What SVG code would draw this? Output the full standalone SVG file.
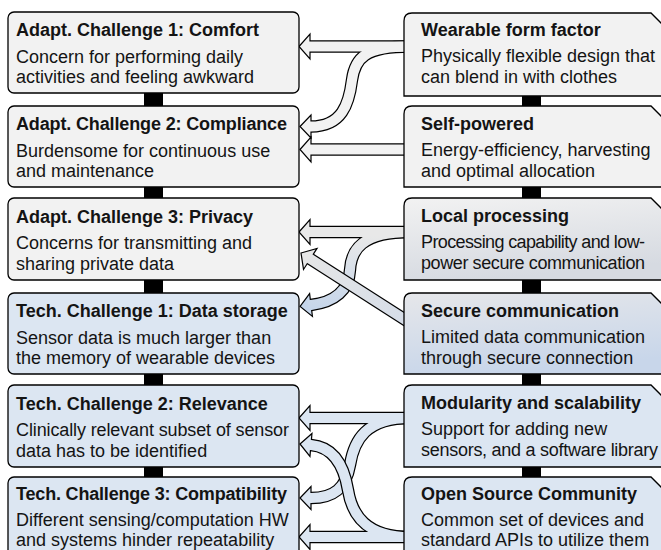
<svg xmlns="http://www.w3.org/2000/svg" width="661" height="550" viewBox="0 0 661 550">
<style>
.box{stroke:#000;stroke-width:1.3}
.g{fill:#f2f2f2}
.b{fill:#dce6f2}
.t{font-family:"Liberation Sans",Arial,sans-serif;font-size:18px;fill:#141414}
.tb{font-weight:bold}
.sk{fill:none;stroke:#000;stroke-width:12.4}
.sf{fill:none;stroke-width:10}
.hd{stroke:#000;stroke-width:1.2;stroke-linejoin:miter}
.bar{fill:#000}
</style>
<defs>
<linearGradient id="gLocal" x1="0" y1="0" x2="0.3" y2="1">
<stop offset="0" stop-color="#f2f2f2"/><stop offset="1" stop-color="#d6dae1"/>
</linearGradient>
<linearGradient id="gSecure" x1="0" y1="0" x2="0.3" y2="1">
<stop offset="0" stop-color="#e6e7ea"/><stop offset="1" stop-color="#c8d6ea"/>
</linearGradient>
<linearGradient id="gE" gradientUnits="userSpaceOnUse" x1="0" y1="236" x2="0" y2="312">
<stop offset="0" stop-color="#e8e8e8"/><stop offset="1" stop-color="#c5d5ea"/>
</linearGradient>
<linearGradient id="gF" gradientUnits="userSpaceOnUse" x1="300" y1="253" x2="404" y2="319">
<stop offset="0" stop-color="#e6e6e6"/><stop offset="1" stop-color="#d6dde8"/>
</linearGradient>
</defs>

<g id="connectors">
<rect class="bar" x="144" y="90" width="19" height="20"/>
<rect class="bar" x="144" y="184" width="19" height="18"/>
<rect class="bar" x="144" y="277" width="19" height="20"/>
<rect class="bar" x="144" y="371" width="19" height="18"/>
<rect class="bar" x="144" y="464" width="19" height="17"/>
<rect class="bar" x="522" y="93" width="19" height="17"/>
<rect class="bar" x="522" y="184" width="19" height="18"/>
<rect class="bar" x="522" y="277" width="19" height="20"/>
<rect class="bar" x="522" y="371" width="19" height="18"/>
<rect class="bar" x="522" y="464" width="19" height="17"/>

<g id="arrows-1">
<path class="sk" d="M410,46.5 H308"/>
<path class="sk" d="M410,46.5 C365,46.5 355,58 352,80 C349,104 342,126.5 311,126.5 H308"/>
<path class="sk" d="M410,149.5 H308"/>
<polygon class="hd g" transform="translate(299,46.5)" points="0,0 11,-12.5 11,12.5"/>
<polygon class="hd g" transform="translate(300,126.5)" points="0,0 11,-11.5 11,11.5"/>
<polygon class="hd g" transform="translate(300,149.5)" points="0,0 11,-12.5 11,12.5"/>
<path class="sf" stroke="#f2f2f2" d="M410,46.5 H307"/>
<path class="sf" stroke="#f2f2f2" d="M410,46.5 C365,46.5 355,58 352,80 C349,104 342,126.5 311,126.5 H308"/>
<path class="sf" stroke="#f2f2f2" d="M410,149.5 H307"/>
</g>

<g id="arrows-2">
<path class="sk" d="M410,232 H308"/>
<path class="sk" d="M410,232 C362,232 351,250 350,270 C349,290 335,302 311,305 L308,305.4"/>
<polygon class="hd" fill="#e8e8e8" transform="translate(299,232)" points="0,0 11,-12.5 11,12.5"/>
<polygon class="hd" fill="#c5d5ea" transform="translate(300.1,306.4) rotate(-7.1)" points="0,0 11,-11.5 11,11.5"/>
<path class="sf" stroke="#e8e8e8" d="M410,232 H307"/>
<path class="sf" stroke="url(#gE)" d="M410,232 C362,232 351,250 350,270 C349,290 335,302 311,305 L308,305.4"/>
</g>

<g id="arrow-secure">
<path class="sk" d="M420,329.3 L308.5,257.8"/>
<polygon class="hd" fill="#e6e6e6" transform="translate(301,253) rotate(32.65)" points="0,0 11,-12.5 11,12.5"/>
<path class="sf" stroke="url(#gF)" d="M420,329.3 L308.5,257.8"/>
</g>

<g id="arrows-3">
<path class="sk" d="M410,418 H308"/>
<path class="sk" d="M410,418 C366,418 354,440 350,465 C346,488 334,498 311,498 H308"/>
<polygon class="hd b" transform="translate(299,418)" points="0,0 11,-12.5 11,12.5"/>
<polygon class="hd b" transform="translate(300,498)" points="0,0 11,-11.5 11,11.5"/>
<path class="sf" stroke="#dce6f2" d="M410,418 H307"/>
<path class="sf" stroke="#dce6f2" d="M410,418 C366,418 354,440 350,465 C346,488 334,498 311,498 H307"/>
</g>

<g id="arrows-4">
<path class="sk" d="M410,537 H308"/>
<path class="sk" d="M410,537 C366,537 352,515 348,490 C344,466 334,447 311,445 L308,444.7"/>
<polygon class="hd b" transform="translate(299,537)" points="0,0 11,-12.5 11,12.5"/>
<polygon class="hd b" transform="translate(300,444) rotate(5)" points="0,0 11,-11.5 11,11.5"/>
<path class="sf" stroke="#dce6f2" d="M410,537 H307"/>
<path class="sf" stroke="#dce6f2" d="M410,537 C366,537 352,515 348,490 C344,466 334,447 311,445 L307,444.6"/>
</g>
</g>

<g id="adapt1">
<rect class="box g" x="8" y="12" width="291" height="81" rx="6"/>
<text class="t tb" x="16" y="36">Adapt. Challenge 1: Comfort</text>
<text class="t" x="16" y="62.5">Concern for performing daily</text>
<text class="t" x="16" y="83">activities and feeling awkward</text>
</g>
<g id="adapt2">
<rect class="box g" x="8" y="106" width="291" height="81" rx="6"/>
<text class="t tb" x="16" y="130" textLength="271">Adapt. Challenge 2: Compliance</text>
<text class="t" x="16" y="156.5">Burdensome for continuous use</text>
<text class="t" x="16" y="177">and maintenance</text>
</g>
<g id="adapt3">
<rect class="box g" x="8" y="198" width="291" height="82" rx="6"/>
<text class="t tb" x="16" y="222.5">Adapt. Challenge 3: Privacy</text>
<text class="t" x="16" y="249">Concerns for transmitting and</text>
<text class="t" x="16" y="269.5">sharing private data</text>
</g>
<g id="tech1">
<rect class="box b" x="8" y="293" width="291" height="81" rx="6"/>
<text class="t tb" x="16" y="317">Tech. Challenge 1: Data storage</text>
<text class="t" x="16" y="343.5">Sensor data is much larger than</text>
<text class="t" x="16" y="364">the memory of wearable devices</text>
</g>
<g id="tech2">
<rect class="box b" x="8" y="385" width="291" height="82" rx="6"/>
<text class="t tb" x="16" y="409.5">Tech. Challenge 2: Relevance</text>
<text class="t" x="16" y="436" textLength="273">Clinically relevant subset of sensor</text>
<text class="t" x="16" y="456.5">data has to be identified</text>
</g>
<g id="tech3">
<rect class="box b" x="8" y="477" width="291" height="90" rx="6"/>
<text class="t tb" x="16" y="500" textLength="271">Tech. Challenge 3: Compatibility</text>
<text class="t" x="16" y="526">Different sensing/computation HW</text>
<text class="t" x="16" y="545.5">and systems hinder repeatability</text>
</g>

<g id="wearable">
<path class="box g" d="M404,21 Q404,13 412,13 H651 L668,30 V96 H404 Z"/>
<text class="t tb" x="421" y="35.5">Wearable form factor</text>
<text class="t" x="421" y="62">Physically flexible design that</text>
<text class="t" x="421" y="82.5">can blend in with clothes</text>
</g>
<g id="selfpowered">
<path class="box g" d="M404,114 Q404,106 412,106 H651 L668,123 V187 H404 Z"/>
<text class="t tb" x="421" y="129.5">Self-powered</text>
<text class="t" x="421" y="156">Energy-efficiency, harvesting</text>
<text class="t" x="421" y="176.5">and optimal allocation</text>
</g>
<g id="localprocessing">
<path class="box" fill="url(#gLocal)" d="M404,206 Q404,198 412,198 H651 L668,215 V280 H404 Z"/>
<text class="t tb" x="421" y="221.5">Local processing</text>
<text class="t" x="421" y="248" textLength="224">Processing capability and low-</text>
<text class="t" x="421" y="268.5" textLength="224">power secure communication</text>
</g>
<g id="securecomm">
<path class="box" fill="url(#gSecure)" d="M404,301 Q404,293 412,293 H651 L668,310 V374 H404 Z"/>
<text class="t tb" x="421" y="316.5">Secure communication</text>
<text class="t" x="421" y="343">Limited data communication</text>
<text class="t" x="421" y="363.5">through secure connection</text>
</g>
<g id="modularity">
<path class="box b" d="M404,393 Q404,385 412,385 H651 L668,402 V467 H404 Z"/>
<text class="t tb" x="421" y="408.5">Modularity and scalability</text>
<text class="t" x="421" y="435">Support for adding new</text>
<text class="t" x="421" y="455.5" textLength="237">sensors, and a software library</text>
</g>
<g id="opensource">
<path class="box b" d="M404,485 Q404,477 412,477 H651 L668,494 V567 H404 Z"/>
<text class="t tb" x="421" y="500">Open Source Community</text>
<text class="t" x="421" y="526">Common set of devices and</text>
<text class="t" x="421" y="545.5">standard APIs to utilize them</text>
</g>
</svg>
